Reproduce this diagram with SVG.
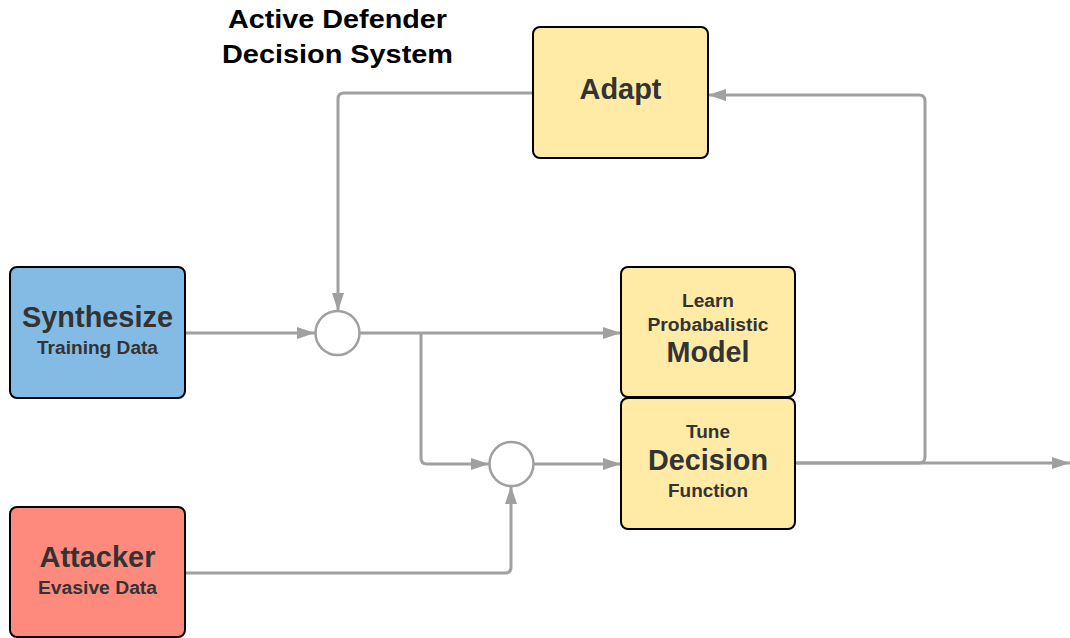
<svg xmlns="http://www.w3.org/2000/svg" width="1070" height="638" viewBox="0 0 1070 638">
<style>
.box{stroke:#000;stroke-width:2}
.t{font-family:"Liberation Sans",Arial,sans-serif;font-weight:bold;fill:#333;text-anchor:middle}
.title{font-family:"Liberation Sans",Arial,sans-serif;font-weight:bold;fill:#000;text-anchor:middle;font-size:26px}
.c{fill:none;stroke:#a0a0a0;stroke-width:3;stroke-linejoin:round}
.j{fill:#fff;stroke:#a0a0a0;stroke-width:2.5}
</style>
<defs>
<marker id="ah" viewBox="0 0 18 12" refX="18" refY="6" markerWidth="18" markerHeight="12" markerUnits="userSpaceOnUse" orient="auto">
<path d="M0,0 L18,6 L0,12 Z" fill="#a0a0a0"/>
</marker>
</defs>
<rect width="1070" height="638" fill="#fff"/>
<text class="title" x="337.5" y="28" textLength="219" lengthAdjust="spacingAndGlyphs">Active Defender</text>
<text class="title" x="337.5" y="63" textLength="231" lengthAdjust="spacingAndGlyphs">Decision System</text>
<g id="connectors">
<path class="c" d="M185,333 H315" marker-end="url(#ah)"/>
<path class="c" d="M360,333 H621" marker-end="url(#ah)"/>
<path class="c" d="M421,333 V458 Q421,464 427,464 H489" marker-end="url(#ah)"/>
<path class="c" d="M534,464 H621" marker-end="url(#ah)"/>
<path class="c" d="M185,573 H505 Q511,573 511,567 V486" marker-end="url(#ah)"/>
<path class="c" d="M795,463 H1070" marker-end="url(#ah)"/>
<path class="c" d="M795,463 H919 Q925,463 925,457 V101 Q925,95 919,95 H708" marker-end="url(#ah)"/>
<path class="c" d="M533,93 H344 Q338,93 338,99 V311" marker-end="url(#ah)"/>
</g>
<g id="synthesize">
<rect class="box" x="10" y="267" width="175" height="131" rx="7" fill="#83bbe5"/>
<text class="t" x="97.5" y="327" font-size="29" textLength="151" lengthAdjust="spacingAndGlyphs">Synthesize</text>
<text class="t" x="97.5" y="354" font-size="18" textLength="121" lengthAdjust="spacingAndGlyphs">Training Data</text>
</g>
<g id="attacker">
<rect class="box" x="10" y="507" width="175" height="130" rx="7" fill="#fe8a7e"/>
<text class="t" x="97.5" y="567" font-size="29" textLength="116" lengthAdjust="spacingAndGlyphs">Attacker</text>
<text class="t" x="97.5" y="594" font-size="18" textLength="119" lengthAdjust="spacingAndGlyphs">Evasive Data</text>
</g>
<g id="adapt">
<rect class="box" x="533" y="27" width="175" height="131" rx="7" fill="#ffeba5"/>
<text class="t" x="620.5" y="99" font-size="29" textLength="82" lengthAdjust="spacingAndGlyphs">Adapt</text>
</g>
<g id="junction1"><circle class="j" cx="337.5" cy="333" r="22"/></g>
<g id="junction2"><circle class="j" cx="511.5" cy="464" r="22"/></g>
<g id="learn">
<rect class="box" x="621" y="267" width="174" height="130" rx="7" fill="#ffeba5"/>
<text class="t" x="708" y="307" font-size="18" textLength="52" lengthAdjust="spacingAndGlyphs">Learn</text>
<text class="t" x="708" y="331" font-size="18" textLength="121" lengthAdjust="spacingAndGlyphs">Probabalistic</text>
<text class="t" x="708" y="362" font-size="29" textLength="83" lengthAdjust="spacingAndGlyphs">Model</text>
</g>
<g id="tune">
<rect class="box" x="621" y="398" width="174" height="131" rx="7" fill="#ffeba5"/>
<text class="t" x="708" y="438" font-size="18" textLength="44" lengthAdjust="spacingAndGlyphs">Tune</text>
<text class="t" x="708" y="470" font-size="29" textLength="120" lengthAdjust="spacingAndGlyphs">Decision</text>
<text class="t" x="708" y="497" font-size="18" textLength="80" lengthAdjust="spacingAndGlyphs">Function</text>
</g>
</svg>
